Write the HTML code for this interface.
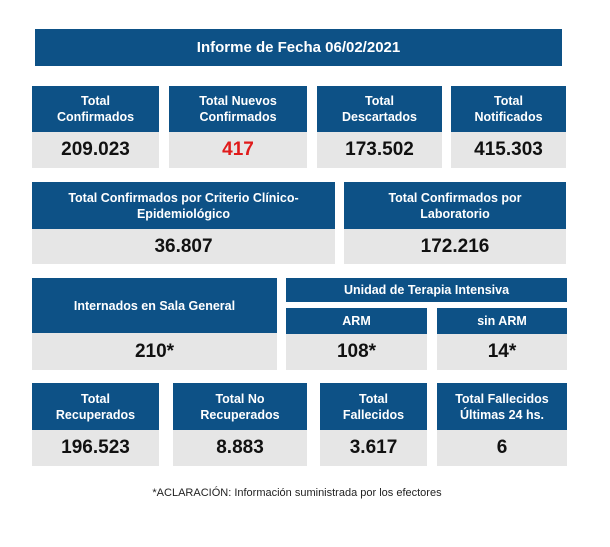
<!DOCTYPE html>
<html><head><meta charset="utf-8"><style>
body{margin:0;width:610px;height:547px;background:#fff;position:relative;font-family:"Liberation Sans",sans-serif;overflow:hidden}
.b{position:absolute;background:#0d5186;color:#fff;font-weight:bold;font-size:12.5px;display:flex;align-items:center;justify-content:center;text-align:center;line-height:16px}
.g{position:absolute;background:#e6e6e6;color:#111;font-weight:bold;font-size:19px;display:flex;align-items:center;justify-content:center}
.t{position:absolute;font-size:11px;color:#222;width:610px;text-align:center;top:487px}
</style></head><body>
<div class="b" style="left:35px;top:29px;width:527px;height:37px;font-size:15px">Informe de Fecha 06/02/2021</div>

<div class="b" style="left:32px;top:86px;width:127px;height:46px">Total<br>Confirmados</div>
<div class="g" style="left:32px;top:132px;width:127px;height:36px">209.023</div>
<div class="b" style="left:169px;top:86px;width:138px;height:46px">Total Nuevos<br>Confirmados</div>
<div class="g" style="left:169px;top:132px;width:138px;height:36px;color:#e01b1b">417</div>
<div class="b" style="left:317px;top:86px;width:125px;height:46px">Total<br>Descartados</div>
<div class="g" style="left:317px;top:132px;width:125px;height:36px">173.502</div>
<div class="b" style="left:451px;top:86px;width:115px;height:46px">Total<br>Notificados</div>
<div class="g" style="left:451px;top:132px;width:115px;height:36px">415.303</div>

<div class="b" style="left:32px;top:182px;width:303px;height:47px">Total Confirmados por Criterio Clínico-<br>Epidemiológico</div>
<div class="g" style="left:32px;top:229px;width:303px;height:35px">36.807</div>
<div class="b" style="left:344px;top:182px;width:222px;height:47px">Total Confirmados por<br>Laboratorio</div>
<div class="g" style="left:344px;top:229px;width:222px;height:35px">172.216</div>

<div class="b" style="left:32px;top:278px;width:245px;height:55px">Internados en Sala General</div>
<div class="g" style="left:32px;top:333px;width:245px;height:37px">210*</div>
<div class="b" style="left:286px;top:278px;width:281px;height:24px">Unidad de Terapia Intensiva</div>
<div class="b" style="left:286px;top:308px;width:141px;height:26px">ARM</div>
<div class="g" style="left:286px;top:334px;width:141px;height:36px">108*</div>
<div class="b" style="left:437px;top:308px;width:130px;height:26px">sin ARM</div>
<div class="g" style="left:437px;top:334px;width:130px;height:36px">14*</div>

<div class="b" style="left:32px;top:383px;width:127px;height:47px">Total<br>Recuperados</div>
<div class="g" style="left:32px;top:430px;width:127px;height:36px">196.523</div>
<div class="b" style="left:173px;top:383px;width:134px;height:47px">Total No<br>Recuperados</div>
<div class="g" style="left:173px;top:430px;width:134px;height:36px">8.883</div>
<div class="b" style="left:320px;top:383px;width:107px;height:47px">Total<br>Fallecidos</div>
<div class="g" style="left:320px;top:430px;width:107px;height:36px">3.617</div>
<div class="b" style="left:437px;top:383px;width:130px;height:47px">Total Fallecidos<br>Últimas 24 hs.</div>
<div class="g" style="left:437px;top:430px;width:130px;height:36px">6</div>

<div class="t" style="left:-8px">*ACLARACIÓN: Información suministrada por los efectores</div>
</body></html>
